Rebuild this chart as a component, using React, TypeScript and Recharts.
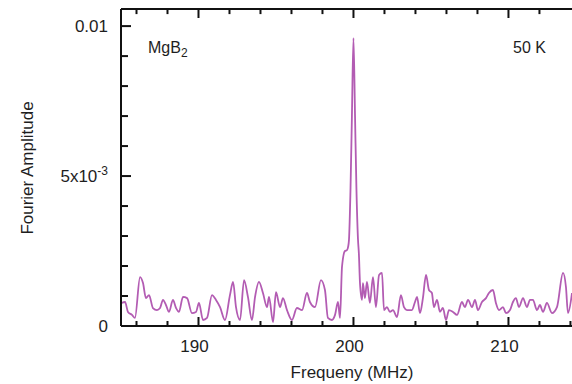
import { LineChart, Line, XAxis, YAxis, Label, ReferenceLine } from "recharts";

// frequency (MHz) and Fourier amplitude (in units of 1e-3)
const frequency = [
  185.05, 185.26, 185.45, 185.71, 185.9, 186.23, 186.42, 186.61, 186.81, 187.06,
  187.32, 187.52, 187.71, 187.9, 188.1, 188.35, 188.55, 188.74, 189.0, 189.26,
  189.58, 189.84, 190.03, 190.29, 190.55, 190.87, 191.13, 191.39, 191.71, 192.03,
  192.23, 192.42, 192.68, 192.94, 193.19, 193.45, 193.65, 193.9, 194.16, 194.42,
  194.55, 194.81, 195.0, 195.26, 195.45, 195.71, 196.03, 196.35, 196.68, 197.0,
  197.19, 197.52, 197.9, 198.16, 198.35, 198.61, 198.81, 199.0, 199.13, 199.26,
  199.45, 199.58, 199.65, 199.71, 199.81, 199.9, 200.0, 200.1, 200.19, 200.29,
  200.35, 200.42, 200.55, 200.61, 200.74, 200.87, 201.06, 201.26, 201.45, 201.65,
  201.84, 201.97, 202.16, 202.35, 202.55, 202.81, 203.06, 203.26, 203.45, 203.77,
  203.97, 204.1, 204.29, 204.48, 204.68, 204.87, 205.06, 205.19, 205.39, 205.58,
  205.77, 205.97, 206.16, 206.42, 206.68, 207.0, 207.19, 207.39, 207.65, 207.84,
  208.03, 208.29, 208.55, 208.74, 209.0, 209.19, 209.39, 209.65, 209.84, 210.1,
  210.29, 210.48, 210.68, 210.94, 211.19, 211.39, 211.58, 211.84, 212.03, 212.23,
  212.48, 212.81, 213.13, 213.52, 213.71, 213.84, 214.1,
];

const amplitude = [
  0.77, 0.8, 0.47, 0.37, 0.27, 1.63, 1.43, 0.93, 1.03, 0.6,
  0.53, 0.6, 0.87, 0.7, 0.47, 0.87, 0.6, 0.47, 0.97, 0.93,
  0.43, 0.47, 0.77, 0.2, 0.27, 1.03, 0.87, 0.63, 0.2, 1.03,
  1.47, 0.63, 0.2, 1.53, 0.97, 0.2, 0.97, 1.47, 1.1, 0.63,
  0.97, 0.13, 1.13, 0.63, 0.93, 0.53, 0.2, 0.6, 0.53, 1.1,
  0.8, 0.63, 1.53, 1.2, 0.27, 0.2, 0.37, 0.8, 0.27, 1.97,
  2.5, 2.53, 2.63, 2.87, 4.6, 7.0, 9.6, 7.0, 4.6, 2.9,
  2.4, 1.43, 0.87, 1.43, 0.93, 1.47, 0.77, 1.63, 0.63, 1.7,
  1.77, 0.53, 0.63, 0.47, 0.53, 0.3, 1.03, 0.63, 0.53, 0.53,
  0.8, 0.97, 0.43, 0.93, 1.7, 1.2, 1.1, 0.63, 0.87, 0.47,
  0.6, 0.2, 0.53, 0.47, 0.37, 0.8, 0.63, 0.87, 0.63, 0.87,
  0.53, 0.8, 0.93, 1.1, 1.2, 0.77, 0.53, 0.63, 0.43, 0.53,
  0.8, 0.93, 0.63, 0.93, 0.63, 0.87, 0.87, 0.53, 0.7, 0.47,
  0.77, 0.43, 0.63, 1.77, 1.3, 0.43, 1.1,
];

const xTicks = [186, 188, 190, 192, 194, 196, 198, 200, 202, 204, 206, 208, 210, 212, 214];
const xLabelTicks = [190, 200, 210];
const yTicks = [0, 1, 2, 3, 4, 5, 6, 7, 8, 9, 10];
const yLabelTicks = [0, 5, 10];

const X_MIN = 185;
const X_MAX = 214.1;
const Y_MAX = 10.57;

const data = frequency.map((f, i) => ({ f, a: amplitude[i] }));

const FONT = "'Liberation Sans', Arial, sans-serif";
const INK = "#1e1e1e";

const BottomTick = (props: any) => {
  const { x, y, payload } = props;
  const major = xLabelTicks.includes(payload.value);
  return (
    <g>
      <line x1={x} x2={x} y1={y} y2={y - (major ? 9 : 5)} stroke="#111" strokeWidth={2} />
      {major && (
        <text x={x - 4} y={y + 26} textAnchor="middle" fontSize={17} fontFamily={FONT} fill={INK}>
          {payload.value}
        </text>
      )}
    </g>
  );
};

const LeftTick = (props: any) => {
  const { x, y, payload } = props;
  const v = payload.value;
  const major = yLabelTicks.includes(v);
  let label: any = null;
  if (v === 0) label = "0";
  else if (v === 10) label = "0.01";
  else if (v === 5)
    label = (
      <>
        <tspan>5x10</tspan>
        <tspan fontSize={12} dy={-7}>-3</tspan>
      </>
    );
  return (
    <g>
      <line x1={x} x2={x + (major ? 10 : 7)} y1={y} y2={y} stroke="#111" strokeWidth={2} />
      {label && (
        <text x={x - 13} y={y + 6} textAnchor="end" fontSize={17} fontFamily={FONT} fill={INK}>
          {label}
        </text>
      )}
    </g>
  );
};

export default function App() {
  return (
    <div style={{ position: "absolute", left: 0, top: 0, width: 572, height: 384, background: "#fff" }}>
      <LineChart width={572} height={384} data={data} margin={{ top: 9, right: 0, bottom: 0, left: 0 }}>
        <XAxis
          dataKey="f"
          type="number"
          domain={[X_MIN, X_MAX]}
          ticks={xTicks}
          interval={0}
          height={58}
          tickSize={0}
          tickMargin={0}
          tickLine={false}
          tick={<BottomTick />}
          axisLine={{ stroke: "#111", strokeWidth: 2 }}
        >
          <Label
            content={() => (
              <text x={352} y={378} textAnchor="middle" fontSize={17} fontFamily={FONT} fill={INK}>
                Frequeny (MHz)
              </text>
            )}
          />
        </XAxis>
        <YAxis
          type="number"
          domain={[0, Y_MAX]}
          ticks={yTicks}
          interval={0}
          width={121}
          tickSize={0}
          tickMargin={0}
          tickLine={false}
          tick={<LeftTick />}
          axisLine={{ stroke: "#111", strokeWidth: 2 }}
        >
          <Label
            content={() => (
              <text
                transform="translate(33, 168) rotate(-90)"
                textAnchor="middle"
                fontSize={17}
                fontFamily={FONT}
                fill={INK}
              >
                Fourier Amplitude
              </text>
            )}
          />
        </YAxis>
        <Line
          dataKey="a"
          type="monotone"
          stroke="#b35cb3"
          strokeWidth={1.8}
          dot={false}
          isAnimationActive={false}
        />
        {/* top frame and its inward ticks */}
        <ReferenceLine y={Y_MAX} stroke="#111" strokeWidth={2} />
        <ReferenceLine segment={[{ x: 186, y: Y_MAX }, { x: 186, y: Y_MAX - 0.17 }]} stroke="#111" strokeWidth={2} />
        <ReferenceLine segment={[{ x: 188, y: Y_MAX }, { x: 188, y: Y_MAX - 0.17 }]} stroke="#111" strokeWidth={2} />
        <ReferenceLine segment={[{ x: 190, y: Y_MAX }, { x: 190, y: Y_MAX - 0.3 }]} stroke="#111" strokeWidth={2} />
        <ReferenceLine segment={[{ x: 192, y: Y_MAX }, { x: 192, y: Y_MAX - 0.17 }]} stroke="#111" strokeWidth={2} />
        <ReferenceLine segment={[{ x: 194, y: Y_MAX }, { x: 194, y: Y_MAX - 0.17 }]} stroke="#111" strokeWidth={2} />
        <ReferenceLine segment={[{ x: 196, y: Y_MAX }, { x: 196, y: Y_MAX - 0.17 }]} stroke="#111" strokeWidth={2} />
        <ReferenceLine segment={[{ x: 198, y: Y_MAX }, { x: 198, y: Y_MAX - 0.17 }]} stroke="#111" strokeWidth={2} />
        <ReferenceLine segment={[{ x: 200, y: Y_MAX }, { x: 200, y: Y_MAX - 0.3 }]} stroke="#111" strokeWidth={2} />
        <ReferenceLine segment={[{ x: 202, y: Y_MAX }, { x: 202, y: Y_MAX - 0.17 }]} stroke="#111" strokeWidth={2} />
        <ReferenceLine segment={[{ x: 204, y: Y_MAX }, { x: 204, y: Y_MAX - 0.17 }]} stroke="#111" strokeWidth={2} />
        <ReferenceLine segment={[{ x: 206, y: Y_MAX }, { x: 206, y: Y_MAX - 0.17 }]} stroke="#111" strokeWidth={2} />
        <ReferenceLine segment={[{ x: 208, y: Y_MAX }, { x: 208, y: Y_MAX - 0.17 }]} stroke="#111" strokeWidth={2} />
        <ReferenceLine segment={[{ x: 210, y: Y_MAX }, { x: 210, y: Y_MAX - 0.3 }]} stroke="#111" strokeWidth={2} />
        <ReferenceLine segment={[{ x: 212, y: Y_MAX }, { x: 212, y: Y_MAX - 0.17 }]} stroke="#111" strokeWidth={2} />
      </LineChart>
      <div style={{ position: "absolute", left: 148, top: 39, fontSize: 16, fontFamily: FONT, color: INK }}>
        MgB<sub style={{ fontSize: 12 }}>2</sub>
      </div>
      <div style={{ position: "absolute", left: 513, top: 39, fontSize: 16, fontFamily: FONT, color: INK }}>
        50 K
      </div>
    </div>
  );
}
